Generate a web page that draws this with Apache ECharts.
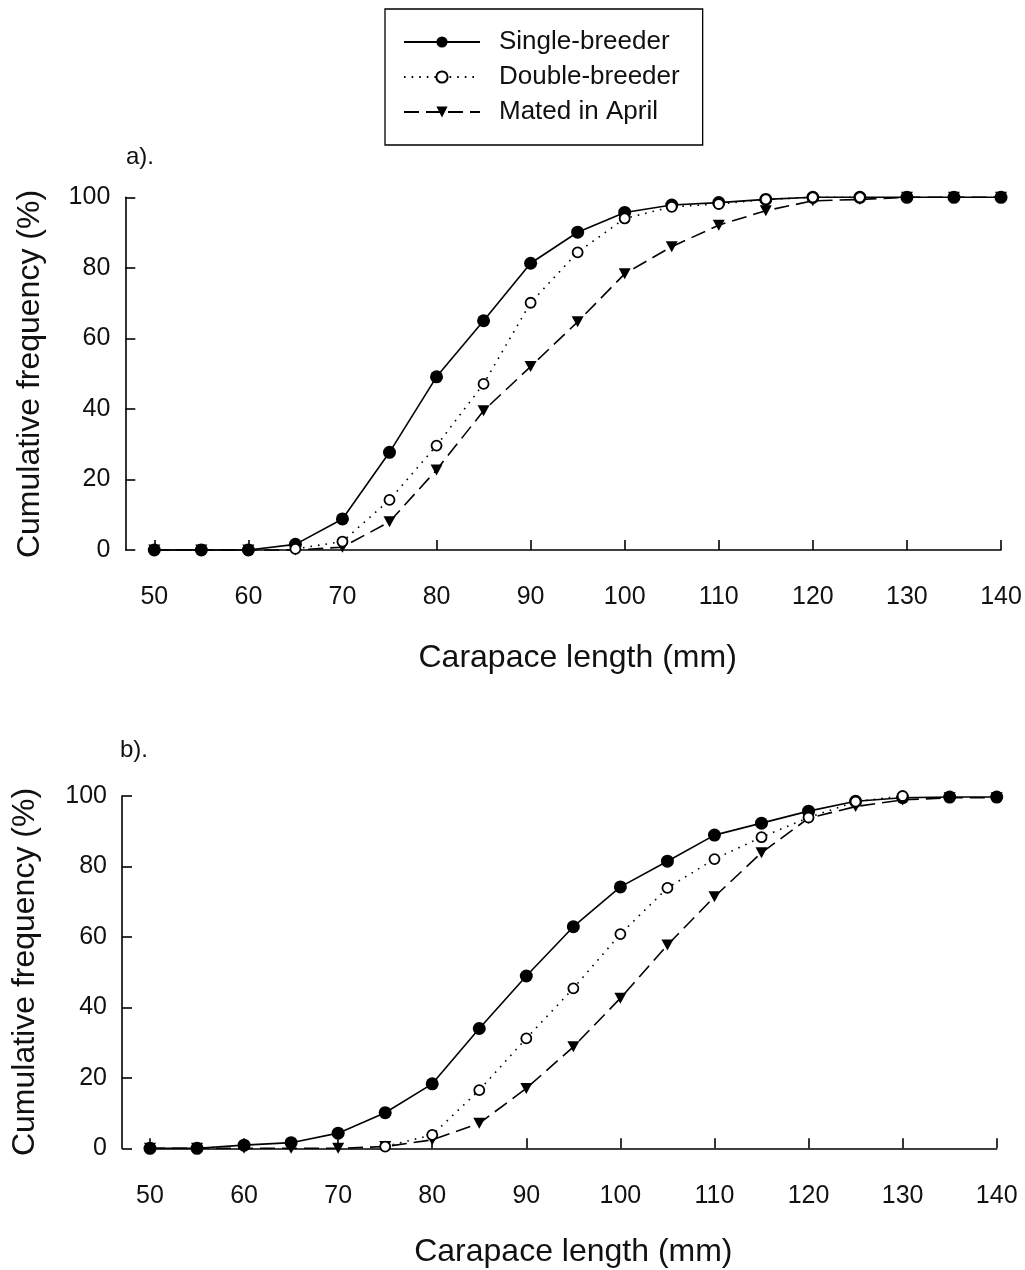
<!DOCTYPE html>
<html>
<head>
<meta charset="utf-8">
<script src="https://cdn.jsdelivr.net/npm/echarts@6/dist/echarts.min.js"></script>
<style>
html,body{margin:0;padding:0;background:#fff;}
#chart{width:1025px;height:1270px;}
</style>
</head>
<body>
<div id="chart"></div>
<script>
// ---- data ----
var lengths = [50,55,60,65,70,75,80,85,90,95,100,105,110,115,120,125,130,135,140];
var seriesNames = ['Single-breeder','Double-breeder','Mated in April'];
var yTicks = [0,20,40,60,80,100];
var xTicks = [50,60,70,80,90,100,110,120,130,140];
var panelLabels = ['a).','b).'];
var xTitle = 'Carapace length (mm)';
var yTitle = 'Cumulative frequency (%)';

// panel a  (null = open-circle marker not visible in the reference, hidden under the filled one)
var aSingle = [0,0,0,1.6,8.8,27.7,49.1,65.0,81.3,90.1,95.7,97.8,98.5,99.4,100,100,100,100,100];
var aDouble = [null,null,null,0.3,2.4,14.2,29.6,47.1,70.1,84.4,94.0,97.3,98.1,99.4,100,100,null,null,null];
var aMated  = [0,0,0,0,0.8,8.0,22.7,39.5,52.0,64.7,78.3,86.0,92.1,96.2,99.0,99.4,100,100,100];
// panel b
var bSingle = [0,0,0.9,1.6,4.3,10.1,18.3,34.0,48.9,62.9,74.2,81.5,88.9,92.3,95.7,98.5,99.5,99.7,99.7];
var bDouble = [null,null,null,null,null,0.5,3.8,16.5,31.2,45.4,60.8,73.9,82.1,88.3,93.9,98.4,100,null,null];
var bMated  = [0,0,0,0,0,0.5,2.4,7.1,17.0,28.8,42.6,57.7,71.4,83.9,93.7,97.0,98.9,99.5,99.5];

function pairs(vals){ return lengths.map(function(x,i){ return [x, vals[i] === null ? '-' : vals[i]]; }); }

var FONT = 'Liberation Sans, Arial, Helvetica, sans-serif';
var INK = '#000';
var TXT = '#111';

function xAxisFor(idx, gap){
  return {
    type:'value', gridIndex: idx, min: xTicks[0], max: xTicks[xTicks.length-1], interval: 10,
    position:'bottom', offset: 20,
    axisLine:{show:true, lineStyle:{color:INK, width:1.6}},
    axisTick:{show:true, inside:true, length:10, lineStyle:{color:INK, width:1.6}},
    axisLabel:{color:TXT, fontSize:25, fontFamily:FONT, margin:15},
    splitLine:{show:false},
    name: xTitle, nameLocation:'middle', nameGap: gap,
    nameTextStyle:{color:TXT, fontSize:32, fontFamily:FONT}
  };
}
function yAxisFor(idx, off){
  return {
    type:'value', gridIndex: idx, min: yTicks[0], max: yTicks[yTicks.length-1], interval: 20,
    position:'left', offset: off,
    axisLine:{show:true, lineStyle:{color:INK, width:1.6}},
    axisTick:{show:true, inside:true, length:10, lineStyle:{color:INK, width:1.6}},
    axisLabel:{color:TXT, fontSize:25, fontFamily:FONT, margin:15},
    splitLine:{show:false}
  };
}
function mk(name, vals, idx){
  var s = {
    name: name, type:'line', xAxisIndex: idx, yAxisIndex: idx,
    data: pairs(vals), animation:false, clip:false, connectNulls:false
  };
  if (name === seriesNames[0]) {
    s.symbol = 'circle'; s.symbolSize = 13; s.z = 3;
    s.itemStyle = {color: INK};
    s.lineStyle = {color: INK, width: 1.6, type:'solid'};
  } else if (name === seriesNames[1]) {
    s.symbol = 'circle'; s.symbolSize = 10; s.z = 4;
    s.itemStyle = {color:'#fff', borderColor: INK, borderWidth: 1.8};
    s.lineStyle = {color: INK, width: 1.6, type:[1.6,6]};
  } else {
    s.symbol = 'triangle'; s.symbolSize = [12,11]; s.symbolRotate = 180; s.z = 2;
    s.itemStyle = {color: INK};
    s.lineStyle = {color: INK, width: 1.6, type:[15,7]};
  }
  return s;
}
function yTitleText(cx, cy){
  return {
    type:'text', x: cx, y: cy, rotation: Math.PI/2, silent:true,
    style:{text: yTitle, fill: TXT, fontSize: 32, fontFamily: FONT, align:'center', verticalAlign:'middle'}
  };
}

var chart = echarts.init(document.getElementById('chart'), null, {renderer:'canvas'});
chart.setOption({
  backgroundColor:'#fff',
  animation:false,
  title:[
    {text: panelLabels[0], left:126, top:145, textStyle:{color:TXT, fontSize:24, fontWeight:'normal', fontFamily:FONT}, padding:0},
    {text: panelLabels[1], left:120, top:738, textStyle:{color:TXT, fontSize:24, fontWeight:'normal', fontFamily:FONT}, padding:0}
  ],
  legend:{
    data: seriesNames, orient:'vertical', left:385, top:9,
    padding:[20,23,20,18], itemGap:9, itemWidth:76, itemHeight:14,
    borderColor: INK, borderWidth:1.3, selectedMode:false,
    textStyle:{color:TXT, fontSize:26, fontFamily:FONT, lineHeight:26, padding:[0,0,0,14]}
  },
  graphic:[ yTitleText(30, 374), yTitleText(25, 972) ],
  grid:[
    {left:154.3, top:197.3, width:846.7, height:352.7, containLabel:false, outerBoundsMode:'none'},
    {left:150, top:796, width:846.7, height:352.3, containLabel:false, outerBoundsMode:'none'}
  ],
  xAxis:[ xAxisFor(0, 72), xAxisFor(1, 68) ],
  yAxis:[ yAxisFor(0, 29), yAxisFor(1, 28) ],
  series:[
    mk(seriesNames[2], aMated, 0), mk(seriesNames[0], aSingle, 0), mk(seriesNames[1], aDouble, 0),
    mk(seriesNames[2], bMated, 1), mk(seriesNames[0], bSingle, 1), mk(seriesNames[1], bDouble, 1)
  ]
});
</script>
</body>
</html>
